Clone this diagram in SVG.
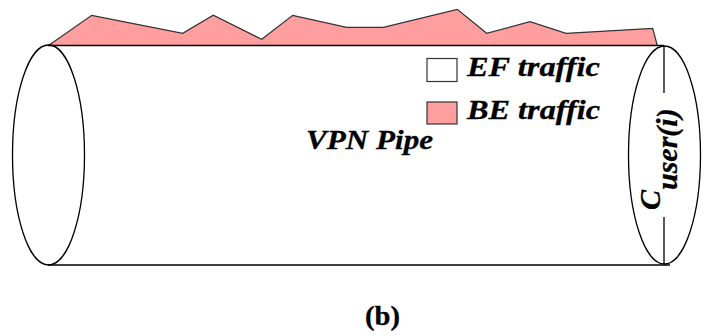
<svg xmlns="http://www.w3.org/2000/svg" width="712" height="336" viewBox="0 0 712 336">
<style>
.ln{fill:none;stroke:#000;stroke-width:1.3}
.be{fill:#FF9E9E;stroke:#333;stroke-width:1.2}
.t{font-family:"Liberation Serif",serif;font-weight:bold;font-style:italic;font-size:27px;fill:#000;stroke:#000;stroke-width:0.3}
</style>
<rect width="712" height="336" fill="#fff"/>
<g id="pipe">
<line class="ln" x1="48" y1="265" x2="670" y2="265"/>
<polygon id="be-traffic" class="be" points="48.5,45.5 91.7,15.3 182.7,33.3 213.3,15.3 261.7,39.3 292.7,15.3 346.7,27.3 383.3,27.3 457.3,9.3 486.7,33.3 530,21.7 566,33.3 652.7,28.3 657.3,45.5"/>
<line class="ln" x1="48" y1="45.5" x2="664" y2="45.5"/>
<ellipse id="left-end" class="ln" cx="48.5" cy="155" rx="36" ry="110"/>
<ellipse id="right-end" class="ln" cx="664.5" cy="155" rx="36" ry="109"/>
<line class="ln" x1="664" y1="46" x2="664" y2="93"/>
<line class="ln" x1="664" y1="217" x2="664" y2="264"/>
</g>
<g id="legend">
<rect x="427" y="58.5" width="30" height="23" fill="#fff" stroke="#333" stroke-width="1.2"/>
<text class="t" x="467" y="76" textLength="133" lengthAdjust="spacingAndGlyphs">EF traffic</text>
<rect x="427" y="102" width="30" height="22" class="be"/>
<text class="t" x="467" y="119" textLength="133" lengthAdjust="spacingAndGlyphs">BE traffic</text>
</g>
<g id="labels">
<text class="t" x="306" y="149" textLength="127" lengthAdjust="spacingAndGlyphs">VPN Pipe</text>
<text class="t" style="font-size:30px" transform="translate(660,210) rotate(-90)">C<tspan dy="17">user(i)</tspan></text>
<text class="t" style="font-style:normal;font-size:27px" x="365" y="325" textLength="35" lengthAdjust="spacingAndGlyphs">(b)</text>
</g>
</svg>
